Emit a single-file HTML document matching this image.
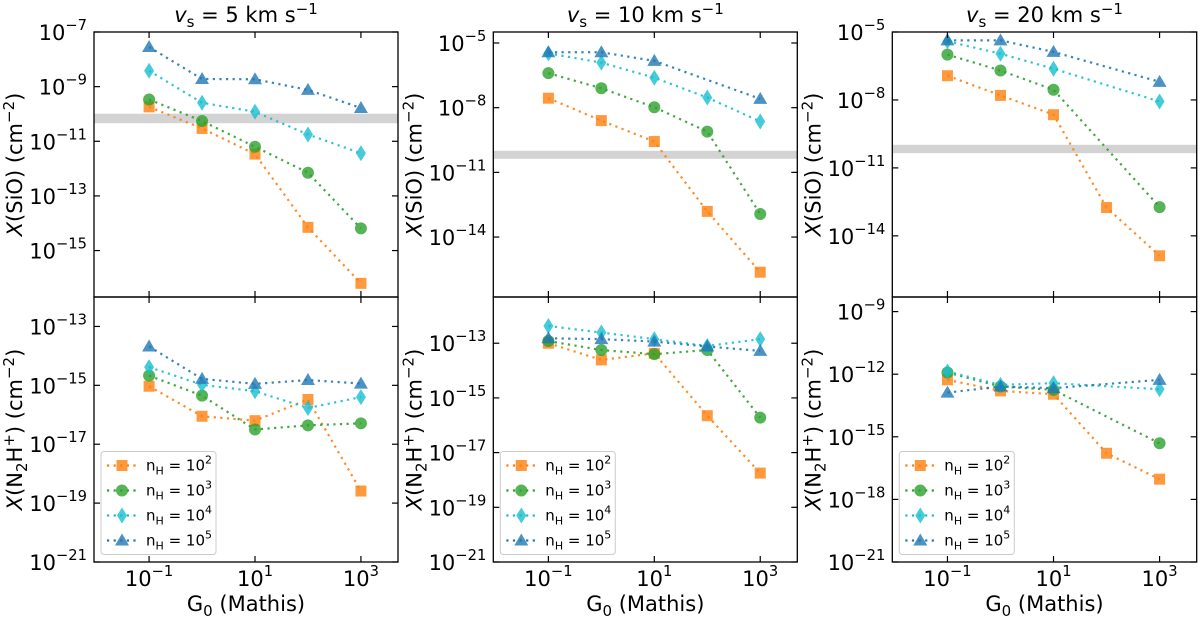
<!DOCTYPE html>
<html><head><meta charset="utf-8">
<style>
html,body{margin:0;padding:0;background:#fff;}
svg{display:block;font-family:"DejaVu Sans","Liberation Sans",sans-serif;}
</style></head>
<body>
<svg id="fig" width="1200" height="620" viewBox="0 0 1200 620" xmlns="http://www.w3.org/2000/svg"></svg>
<script>
// x categories: log10(G0)
const xLogs = [-1, 0, 1, 2, 3];
const seriesNames = ["nH = 10^2","nH = 10^3","nH = 10^4","nH = 10^5"];
const velocities = ["5","10","20"];
// SiO, log10 abundance per series (orange, green, cyan, blue)
const sio5_o = [-9.74,-10.53,-11.47,-14.15,-16.2];
const sio5_g = [-9.47,-10.26,-11.2,-12.15,-14.19];
const sio5_c = [-8.42,-9.59,-9.92,-10.75,-11.44];
const sio5_b = [-7.55,-8.72,-8.73,-9.12,-9.78];
const sio10_o = [-7.56,-8.6,-9.57,-12.81,-15.63];
const sio10_g = [-6.40,-7.10,-7.98,-9.11,-12.93];
const sio10_c = [-5.48,-5.91,-6.61,-7.53,-8.64];
const sio10_b = [-5.43,-5.43,-5.83,null,-7.59];
const sio20_o = [-6.93,-7.8,-8.65,-12.75,-14.88];
const sio20_g = [-6.0,-6.70,-7.55,null,-12.73];
const sio20_c = [-5.41,-5.96,-6.62,null,-8.07];
const sio20_b = [-5.37,-5.37,-5.88,null,-7.2];
// N2H+
const n2h5_o = [-15.03,-16.05,-16.2,-15.48,-18.59];
const n2h5_g = [-14.67,-15.35,-16.5,-16.36,-16.29];
const n2h5_c = [-14.38,-14.98,-15.2,-15.77,-15.4];
const n2h5_b = [-13.68,-14.78,-14.95,-14.82,-14.94];
const n2h10_o = [-13.0,-13.61,-13.37,-15.65,-17.75];
const n2h10_g = [-12.92,-13.25,-13.4,-13.25,-15.72];
const n2h10_c = [-12.37,-12.61,-12.85,-13.1,-12.85];
const n2h10_b = [-12.82,-12.85,-12.94,-13.12,-13.28];
const n2h20_o = [-12.27,-12.80,-12.96,-15.79,-17.03];
const n2h20_g = [-11.92,-12.59,-12.75,null,-15.31];
const n2h20_c = [-11.87,-12.51,-12.43,null,-12.72];
const n2h20_b = [-12.88,-12.59,-12.67,null,-12.27];
// shaded observed SiO band (log10)
const bandLow = [-10.34,-10.37,-10.35];
const bandHigh = [-9.99,-10.0,-9.98];
// tick labels
const xTickLogs = [-1, 1, 3];
const sioTicks = [[-7,-9,-11,-13,-15],[-5,-8,-11,-14],[-5,-8,-11,-14]];
const n2hTicks = [[-13,-15,-17,-19,-21],[-13,-15,-17,-19,-21],[-9,-12,-15,-18,-21]];
const sioLims = [[-16.7,-7],[-16.78,-4.49],[-16.7,-5]];
const n2hLims = [[-21,-12.0],[-21,-11.31],[-21,-8.3]];

const colors = ["#ff7f0e","#2ca02c","#17becf","#1f77b4"];
const markers = ["square","circle","diamond","triangle"];
const panelsX = [[94,398],[493.3,797.3],[892.3,1196.7]];
const xLim = [-2.04,3.7];
const topY = [32,297], botY = [297,562];
const NS = "http://www.w3.org/2000/svg";
const fig = document.getElementById('fig');
function el(tag, attrs, parent){const e=document.createElementNS(NS,tag);for(const k in attrs)e.setAttribute(k,attrs[k]);(parent||fig).appendChild(e);return e;}

function marker(g,shape,cx,cy,col){
  let m;
  if(shape==="square") m=el('rect',{x:cx-5.5,y:cy-5.5,width:11,height:11},g);
  else if(shape==="circle") m=el('circle',{cx:cx,cy:cy,r:6},g);
  else if(shape==="diamond") m=el('polygon',{points:`${cx},${cy-8} ${cx+5},${cy} ${cx},${cy+8} ${cx-5},${cy}`},g);
  else m=el('polygon',{points:`${cx},${cy-7} ${cx+7},${cy+5} ${cx-7},${cy+5}`},g);
  m.setAttribute('fill',col);m.setAttribute('fill-opacity','0.8');
  
  
}

function supLabel(g,x,y,exp,anchor,size){
  const t=el('text',{x:x,y:y,'font-size':size,'text-anchor':anchor,fill:'#000'},g);
  const a=el('tspan',{},t);a.textContent='10';
  const b=el('tspan',{dy:-10,'font-size':size*0.7},t);b.textContent=(exp<0?'\u2212':'')+Math.abs(exp);
  return t;
}

function panel(col,row,data,ticks,lims,ylabelType,band){
  const [x0,x1]=panelsX[col];const [yt,yb]=row===0?topY:botY;
  const sx=v=>x0+(v-xLim[0])/(xLim[1]-xLim[0])*(x1-x0);
  const sy=v=>yb-(v-lims[0])/(lims[1]-lims[0])*(yb-yt);
  const g=el('g',{});
  
  
  if(band){
    const r=el('rect',{x:x0,y:sy(band[1]),width:x1-x0,height:sy(band[0])-sy(band[1]),fill:'#d3d3d3'},g);
    
    
  }
  data.forEach((arr,si)=>{
    const sg=el('g',{},g);
    
    
    const pts=[];arr.forEach((v,i)=>{if(v!==null)pts.push([sx(xLogs[i]),sy(v)]);});
    el('polyline',{points:pts.map(p=>p.join(',')).join(' '),fill:'none',stroke:colors[si],'stroke-width':2.2,'stroke-dasharray':'2.2,4.4','stroke-opacity':0.9},sg);
    pts.forEach(p=>marker(sg,markers[si],p[0],p[1],colors[si]));
  });
  const f=el('rect',{x:x0,y:yt,width:x1-x0,height:yb-yt,fill:'none',stroke:'#000','stroke-width':1.3},g);
  
  ticks.forEach(t=>{const y=sy(t);
    el('line',{x1:x0,y1:y,x2:x0+6,y2:y,stroke:'#000','stroke-width':1.2},g);
    el('line',{x1:x1,y1:y,x2:x1-6,y2:y,stroke:'#000','stroke-width':1.2},g);
    const tl=supLabel(g,x0-7,y+8,t,'end',21);
    
  });
  xTickLogs.forEach(t=>{const x=sx(t);
    el('line',{x1:x,y1:yb,x2:x,y2:yb-6,stroke:'#000','stroke-width':1.2},g);
    el('line',{x1:x,y1:yt,x2:x,y2:yt+6,stroke:'#000','stroke-width':1.2},g);
    if(row===1){const tl=supLabel(g,x,586,t,'middle',21);
      }
  });
  const yl=el('text',{transform:`translate(${x0-72},${(yt+yb)/2}) rotate(-90)`,'text-anchor':'middle','font-size':21,fill:'#000'},g);
  
  if(ylabelType===0){yl.innerHTML='<tspan font-style="italic">X</tspan>(SiO) (cm<tspan dy="-8" font-size="15">\u22122</tspan><tspan dy="8">)</tspan>';}
  else{yl.innerHTML='<tspan font-style="italic">X</tspan>(N<tspan dy="5" font-size="15">2</tspan><tspan dy="-5">H</tspan><tspan dy="-8" font-size="15">+</tspan><tspan dy="8">) (cm</tspan><tspan dy="-8" font-size="15">\u22122</tspan><tspan dy="8">)</tspan>';}
  if(row===1){
    const xl=el('text',{x:(x0+x1)/2,y:611,'text-anchor':'middle','font-size':21,fill:'#000'},g);
    xl.innerHTML='G<tspan dy="5" font-size="15">0</tspan><tspan dy="-5"> (Mathis)</tspan>';
    
    const lg=el('g',{},g);
    
    const lx=x0+7,ly=451.5;
    el('rect',{x:lx,y:ly,width:115,height:103,rx:3,fill:'#fff','fill-opacity':0.8,stroke:'#ccc','stroke-width':1},lg);
    [0,1,2,3].forEach(i=>{
      const ey=ly+14+i*25;
      const eg=el('g',{},lg);
      
      el('line',{x1:lx+6,y1:ey,x2:lx+36,y2:ey,stroke:colors[i],'stroke-width':2.2,'stroke-dasharray':'2.2,4.4'},eg);
      marker(eg,markers[i],lx+21,ey,colors[i]);
      const t=el('text',{x:lx+45,y:ey+5,'font-size':15,fill:'#000'},eg);
      t.innerHTML='n<tspan dy="4" font-size="11">H</tspan><tspan dy="-4"> = 10</tspan><tspan dy="-7" font-size="11">'+(i+2)+'</tspan>';
    });
  } else {
    const tt=el('text',{x:(x0+x1)/2,y:22,'text-anchor':'middle','font-size':21,fill:'#000'},g);
    tt.innerHTML='<tspan font-style="italic">v</tspan><tspan dy="5" font-size="15">s</tspan><tspan dy="-5"> =  '+velocities[col]+' km s</tspan><tspan dy="-8" font-size="15">\u22121</tspan>';
    
  }
}
const sioData=[[sio5_o,sio5_g,sio5_c,sio5_b],[sio10_o,sio10_g,sio10_c,sio10_b],[sio20_o,sio20_g,sio20_c,sio20_b]];
const n2hData=[[n2h5_o,n2h5_g,n2h5_c,n2h5_b],[n2h10_o,n2h10_g,n2h10_c,n2h10_b],[n2h20_o,n2h20_g,n2h20_c,n2h20_b]];
for(let c=0;c<3;c++){
  panel(c,0,sioData[c],sioTicks[c],sioLims[c],0,[bandLow[c],bandHigh[c]]);
  panel(c,1,n2hData[c],n2hTicks[c],n2hLims[c],1,null);
}
</script>
</body></html>
